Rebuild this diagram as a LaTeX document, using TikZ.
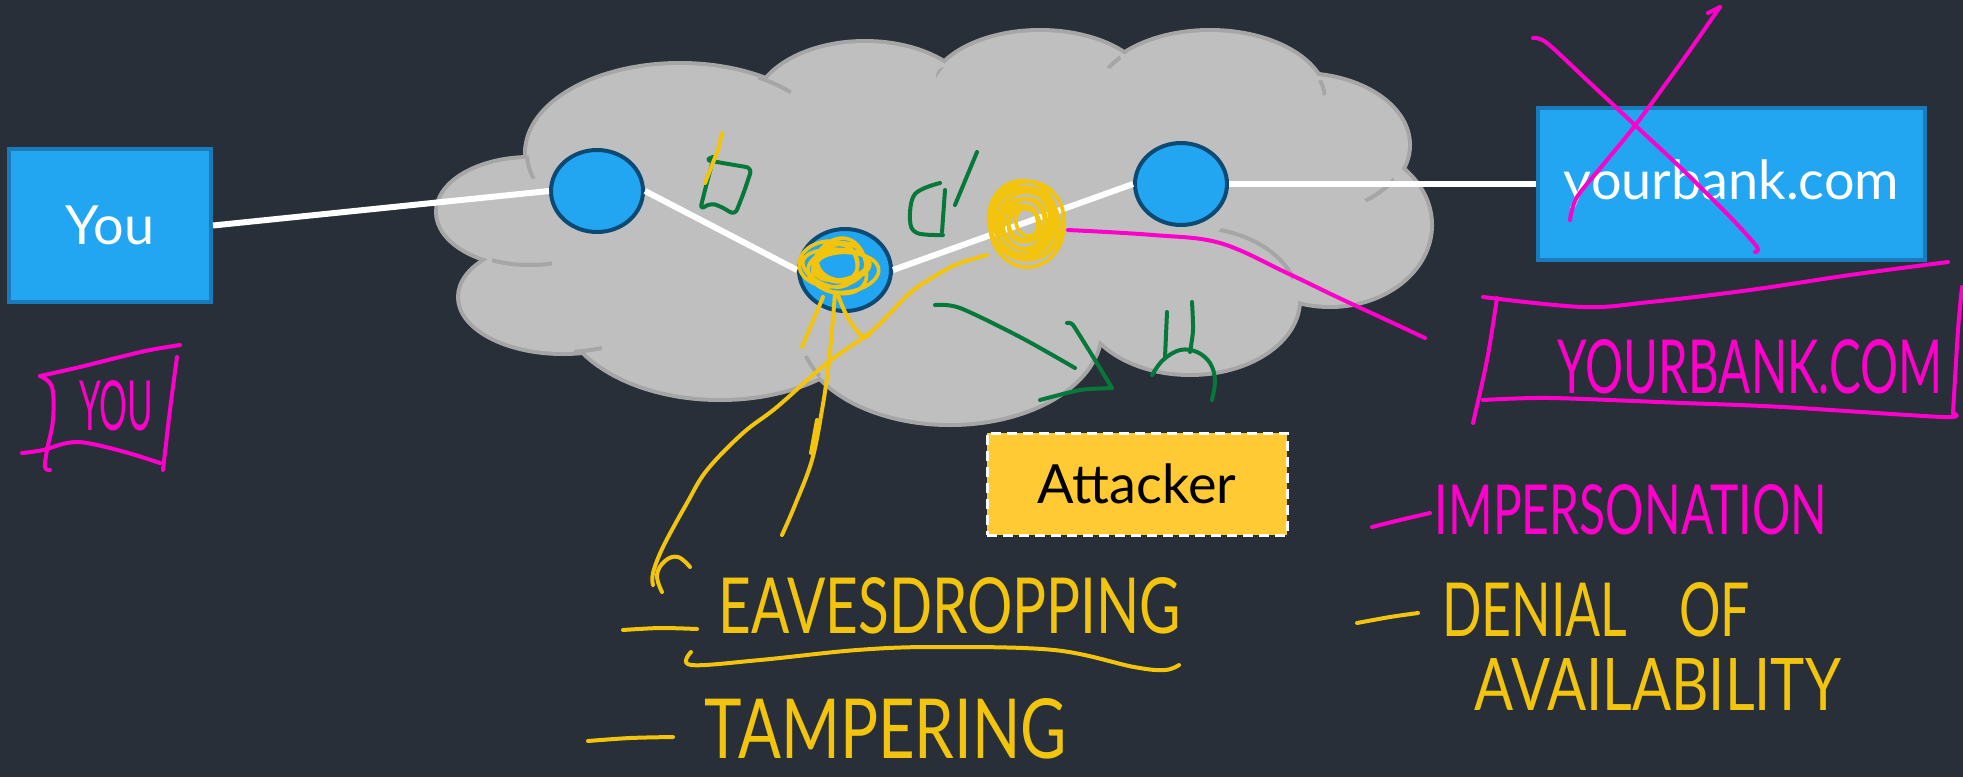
\documentclass[tikz,border=0pt]{standalone}
\usepackage{fontspec}
\setmainfont{Lato}
\usepackage{graphicx}
\usetikzlibrary{shapes.geometric}

\definecolor{bg}{RGB}{40,47,56}
\definecolor{cloudfill}{RGB}{191,191,191}
\definecolor{cloudedge}{RGB}{166,166,166}
\definecolor{netblue}{RGB}{34,166,242}
\definecolor{nodeedge}{RGB}{12,74,115}
\definecolor{boxedge}{RGB}{27,122,186}
\definecolor{attfill}{RGB}{255,202,51}
\definecolor{inkyellow}{RGB}{242,196,14}
\definecolor{inkpink}{RGB}{255,0,204}
\definecolor{inkgreen}{RGB}{5,120,58}

% handwritten label: text squeezed into a given width and cap height
\newcommand{\scrawl}[3]{\resizebox{#1}{#2}{#3}}

\begin{document}
\begin{tikzpicture}[x=0.5pt,y=-0.5pt,
  host/.style={rectangle, draw=boxedge, line width=2pt, fill=netblue,
    text=white, font=\fontsize{27}{32}\selectfont, inner sep=0pt},
  router/.style={ellipse, draw=nodeedge, line width=2pt, fill=netblue,
    minimum width=46pt, minimum height=41pt, inner sep=0pt},
  attackbox/.style={rectangle, fill=attfill, draw=white, line width=1.5pt,
    dash pattern=on 5pt off 3pt, font=\fontsize{27}{32}\selectfont,
    minimum width=150pt, minimum height=51pt, inner sep=0pt},
  wire/.style={draw=white, line width=3pt},
  cloudline/.style={draw=cloudedge, line width=2pt},
  pen/.style={line width=2pt, line cap=round, line join=round},
  penY/.style={pen, draw=inkyellow},
  penP/.style={pen, draw=inkpink},
  penG/.style={pen, draw=inkgreen},
  ink/.style={inner sep=0pt}
]
\useasboundingbox (0,0) rectangle (1963,777);
\fill[bg] (0,0) rectangle (1963,777);

% ---------- the network cloud, built from overlapping puffs ----------
\def\puffs{530/212/92/53, 563/297/103/55, 680/153/153/88, 720/300/160/98,
  950/330/150/93, 1190/300/108/73, 1330/225/100/80, 1300/145/108/70,
  1210/100/115/68, 1040/95/110/63, 865/110/110/67}
\foreach \cx/\cy/\rx/\ry in \puffs
  \draw[draw=cloudedge, line width=4pt] (\cx,\cy) ellipse [x radius=\rx, y radius=\ry];
\foreach \cx/\cy/\rx/\ry in \puffs
  \fill[cloudfill] (\cx,\cy) ellipse [x radius=\rx, y radius=\ry];
\fill[cloudfill] (560,200) -- (700,120) -- (1000,90) -- (1250,120) -- (1330,200)
  -- (1200,300) -- (950,330) -- (700,310) -- cycle;
% short inner edges where puffs overlap
\foreach \cx/\cy/\rx/\ry/\sx/\sy/\sr in {
  680/153/153/88/531/167/12, 530/212/92/53/522/263/30, 563/297/103/55/588/350/14,
  680/153/153/88/775/84/18, 950/330/150/93/810/368/13, 1040/95/110/63/945/76/9,
  1210/100/115/68/1112/60/9, 1210/100/115/68/1321/88/8, 1300/145/108/70/1378/188/18,
  1190/300/108/73/1256/255/44}
{
  \begin{scope}
    \clip (\sx,\sy) circle [radius=\sr];
    \draw[cloudline] (\cx,\cy) ellipse [x radius=\rx, y radius=\ry];
  \end{scope}
}

% ---------- hosts, routers and links ----------
\node[host, minimum width=101pt, minimum height=76.5pt] (you) at (110,225.5) {You};
\node[host, minimum width=193.5pt, minimum height=76pt] (bank) at (1731.5,184) {yourbank.com};
\node[router] (n1) at (597,191) {};
\node[router] (n2) at (845,270) {};
\node[router] (n3) at (1181,184) {};
\node[attackbox] (attacker) at (1137,484) {Attacker};

\draw[wire] (you.east) -- (n1.west);
\draw[wire] (n1.east) -- (n2.west);
\draw[wire] (n2.east) -- (n3.west);
\draw[wire] (n3.east) -- (bank.west);

% ---------- green notes inside the cloud ----------
\draw[penG, rounded corners=3pt] (713,157) -- (705,160) -- (752,168) -- (744,192) -- (735,215)
  -- (720,206) -- (710,203) -- (700,210) -- (706,186) -- (713,160);
\draw[penG] plot[smooth, tension=0.6] coordinates {(940,183) (915,194) (910,220) (917,233) (943,235)};
\draw[penG] (945,190) -- (942,232);
\draw[penG] (977,152) -- (955,205);
\draw[penG] plot[smooth, tension=0.5] coordinates {(935,305) (960,308) (1020,337) (1075,368)};
\draw[penG] plot[smooth, tension=0.3] coordinates {(1067,323) (1073,325) (1095,360) (1112,388)};
\draw[penG] plot[smooth, tension=0.4] coordinates {(1112,388) (1080,390) (1040,400)};
\draw[penG] plot[smooth] coordinates {(1167,312) (1166,335) (1165,357)};
\draw[penG] plot[smooth] coordinates {(1192,302) (1193,330) (1190,352)};
\draw[penG] plot[smooth, tension=0.6] coordinates {(1152,375) (1163,360) (1180,350) (1197,352) (1210,363) (1215,380) (1212,400)};

% ---------- yellow scribbles and leader strokes ----------
\draw[penY] (722,133) -- (718,150) -- (705,183);
\draw[penY, line width=1.8pt] plot[domain=0:2520, samples=380, smooth, variable=\t]
  ({838 + (28+7*sin(\t*0.55))*cos(\t) + 6*sin(\t*0.31)},
   {266 + (20+5*cos(\t*0.43))*sin(\t) + 4*cos(\t*0.23)});
\draw[penY, line width=1.8pt] plot[domain=0:4320, samples=600, smooth, variable=\t]
  ({1025 + (39-0.0065*\t)*cos(\t) + 3*sin(\t*0.37)},
   {222 + (43-\t/140)*sin(\t) + 3*cos(\t*0.29)});
\draw[penY] (823,297) -- (802,347);
\draw[penY] plot[smooth, tension=0.6] coordinates {(835,293) (832,330) (828,370) (822,410) (812,460) (795,505) (782,535)};
\draw[penY] (817,420) -- (811,453);
\draw[penY] plot[smooth, tension=0.6] coordinates {(837,293) (848,318) (863,337) (870,333)};
\draw[penY] plot[smooth, tension=0.6] coordinates {(987,255) (960,263) (940,273) (910,293) (873,330)
  (827,363) (777,407) (743,433) (707,470) (687,503) (663,547) (653,573) (653,585)};
\draw[penY] plot[smooth, tension=0.7] coordinates {(662,592) (657,575) (665,561) (678,557) (690,567)};

% ---------- pink notes ----------
\draw[penP] plot[smooth, tension=0.6] coordinates {(40,376) (80,367) (120,357) (150,350) (180,345)};
\draw[penP] plot[smooth, tension=0.6] coordinates {(40,376) (52,387) (53,420) (47,450) (45,467) (50,470)};
\draw[penP] plot[smooth, tension=0.6] coordinates {(177,357) (170,410) (163,470)};
\draw[penP] plot[smooth, tension=0.6] coordinates {(22,453) (43,450) (67,443) (87,443) (125,452) (160,463)};
\node[ink, text=inkpink] (youNote) at (116,406) {\scrawl{37pt}{25pt}{YOU}};

\draw[penP] plot[smooth, tension=0.5] coordinates {(1533,38) (1547,43) (1590,83) (1637,127) (1683,170) (1733,220) (1757,247) (1755,252)};
\draw[penP] plot[smooth, tension=0.5] coordinates {(1570,220) (1577,197) (1607,160) (1637,123) (1683,60) (1713,17) (1720,7)};
\draw[penP] (1720,7) -- (1708,13);

\draw[penP] plot[smooth, tension=0.6] coordinates {(1483,297) (1583,307) (1650,302) (1750,290) (1850,275) (1948,262)};
\draw[penP] plot[smooth, tension=0.6] coordinates {(1497,298) (1487,360) (1473,423)};
\draw[penP] plot[smooth, tension=0.5] coordinates {(1483,400) (1550,398) (1683,403) (1783,407) (1943,417) (1953,413)};
\draw[penP] plot[smooth, tension=0.5] coordinates {(1953,413) (1958,330) (1962,287)};
\node[ink, text=inkpink] (bankNote) at (1750,367) {\scrawl{192pt}{27pt}{YOURBANK.COM}};

\draw[penP] plot[smooth, tension=0.6] coordinates {(1068,230) (1153,235) (1220,243) (1287,273) (1337,297) (1393,323) (1425,338)};

% ---------- list of threats ----------
\draw[penY] plot[smooth] coordinates {(623,630) (660,628) (697,629)};
\node[ink, text=inkyellow] (eaves) at (950,606) {\scrawl{231pt}{28pt}{EAVESDROPPING}};
\draw[penY] plot[smooth, tension=0.6] coordinates {(691,652) (691,665) (760,660) (857,650) (936,647) (1054,650) (1134,667) (1165,670) (1179,665)};
\draw[penY] plot[smooth] coordinates {(588,741) (630,738) (673,737)};
\node[ink, text=inkyellow] (tamper) at (886,729) {\scrawl{181pt}{30pt}{TAMPERING}};

\draw[penP] plot[smooth] coordinates {(1372,527) (1400,520) (1430,513)};
\node[ink, text=inkpink] (imperson) at (1631,510) {\scrawl{196pt}{25pt}{IMPERSONATION}};
\draw[penY] plot[smooth] coordinates {(1357,623) (1390,617) (1418,613)};
\node[ink, text=inkyellow] (denial) at (1596,610) {\scrawl{154pt}{27pt}{DENIAL\quad OF}};
\node[ink, text=inkyellow] (avail) at (1658,684) {\scrawl{183pt}{26pt}{AVAILABILITY}};
\end{tikzpicture}
\end{document}
